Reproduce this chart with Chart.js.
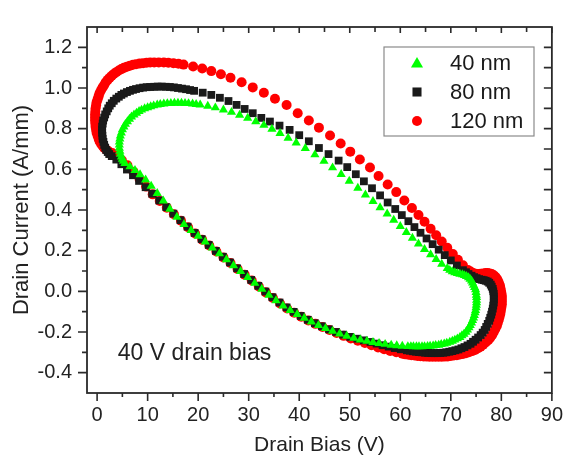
<!DOCTYPE html>
<html>
<head>
<meta charset="utf-8">
<script src="https://cdn.jsdelivr.net/npm/chart.js@4.4.0/dist/chart.umd.min.js"></script>
<style>
  body { margin: 0; background: #fff; }
  #wrap { width: 573px; height: 458px; }
</style>
</head>
<body>
<div id="wrap"><canvas id="loadLine" width="573" height="458"></canvas></div>
<script>
// load lines, loop order: left arc -> top -> right knee -> bottom -> back up the diagonal
let x40 = [5.5, 5.2, 5.0, 4.8, 4.6, 4.5, 4.4, 4.4, 4.4, 4.5, 4.6, 4.8, 5.0, 5.3, 5.6, 6.0, 6.4, 6.8, 7.3, 7.8,
    8.3, 8.8, 9.4, 10.0, 10.6, 11.2, 11.9, 12.5, 13.2, 13.9, 14.6, 15.3, 16.0, 16.7, 17.4, 18.1, 18.9, 19.6, 20.4,
    21.9, 23.4, 25.0, 26.6, 28.2, 29.8, 31.4, 33.0, 34.6, 36.2, 37.8, 39.4, 41.2, 43.1, 44.9, 46.6, 48.3, 49.9, 51.6, 53.1,
    54.6, 56.0, 57.4, 58.7, 60.0, 61.2, 62.4, 63.6, 64.8, 66.0, 67.1, 68.2,
    69.3, 69.8, 70.3, 70.8, 71.3, 71.8, 72.3, 72.7, 73.1, 73.5, 73.8, 74.1, 74.3, 74.5, 74.7, 74.9, 75.0, 75.05, 75.1, 75.1,
    75.1, 75.05, 75.0, 74.9, 74.8, 74.65, 74.5, 74.3, 74.1, 73.85, 73.6, 73.3, 73.0, 72.6, 72.2, 71.8, 71.3, 70.8, 70.3, 69.8,
    69.2, 68.7, 68.1, 67.6, 67.0, 66.5, 65.9, 65.4, 64.8, 64.3, 63.7, 63.2, 62.6, 62.1, 61.5, 60.4,
    59.3, 58.2, 57.0, 55.8, 54.6, 53.4, 52.1, 50.8, 49.4, 48.0, 46.6, 45.2, 43.8, 42.4, 41.0, 39.6, 38.2, 36.8, 35.4, 34.0,
    32.6, 31.2, 29.8, 28.4, 27.0, 25.6, 24.2, 22.8, 21.4, 20.0, 18.6, 17.2, 15.8, 14.4, 13.1, 11.9, 10.7, 9.6, 8.5, 7.5, 6.5];
let y40 = [0.63, 0.64, 0.65, 0.662, 0.675, 0.69, 0.705, 0.72, 0.735, 0.75, 0.765, 0.78, 0.795, 0.809, 0.822, 0.835, 0.847, 0.858, 0.868, 0.877,
    0.885, 0.892, 0.899, 0.904, 0.909, 0.913, 0.917, 0.92, 0.922, 0.924, 0.925, 0.926, 0.926, 0.926, 0.925, 0.924, 0.922, 0.92, 0.917,
    0.911, 0.903, 0.893, 0.881, 0.867, 0.852, 0.835, 0.817, 0.798, 0.777, 0.754, 0.73, 0.703, 0.672, 0.64, 0.608, 0.575, 0.542, 0.508, 0.475,
    0.443, 0.412, 0.381, 0.35, 0.32, 0.29, 0.262, 0.234, 0.207, 0.181, 0.157, 0.134,
    0.113, 0.104, 0.097, 0.092, 0.088, 0.085, 0.082, 0.078, 0.074, 0.068, 0.06, 0.052, 0.042, 0.031, 0.02, 0.008, -0.005, -0.018, -0.03, -0.043,
    -0.055, -0.068, -0.08, -0.093, -0.105, -0.118, -0.13, -0.143, -0.155, -0.167, -0.178, -0.19, -0.2, -0.21, -0.218, -0.226, -0.233, -0.239, -0.245, -0.25,
    -0.254, -0.258, -0.261, -0.264, -0.266, -0.268, -0.269, -0.27, -0.271, -0.272, -0.272, -0.272, -0.272, -0.271, -0.271, -0.269,
    -0.267, -0.264, -0.26, -0.256, -0.251, -0.245, -0.238, -0.23, -0.22, -0.209, -0.196, -0.182, -0.167, -0.15, -0.132, -0.113, -0.093, -0.071, -0.045, -0.018,
    0.011, 0.04, 0.069, 0.098, 0.127, 0.156, 0.185, 0.214, 0.243, 0.272, 0.3, 0.33, 0.365, 0.405, 0.445, 0.482, 0.518, 0.548, 0.574, 0.595, 0.613];

let x80 = [2.4, 2.1, 1.8, 1.6, 1.4, 1.25, 1.1, 1.05, 1.0, 1.0, 1.0, 1.1, 1.2, 1.4, 1.6, 1.9, 2.2, 2.5, 2.9, 3.3,
    3.8, 4.3, 4.8, 5.3, 5.9, 6.5, 7.1, 7.7, 8.4, 9.1, 9.8, 10.5, 11.3, 12.0, 12.8, 13.6, 14.4, 15.2, 16.0, 16.8,
    17.6, 18.4, 19.2,
    20.9, 22.6, 24.3, 26.0, 27.6, 29.2, 30.8, 32.5, 34.2, 36.1, 38.1, 40.0, 41.9, 43.9, 45.8, 47.8, 49.5, 51.2, 52.8, 54.4,
    56.0, 57.5, 59.0, 60.3, 61.6, 62.8, 64.0, 65.2, 66.4, 67.6, 68.8, 70.0, 71.2,
    72.4, 73.0, 73.5, 74.1, 74.6, 75.1, 75.6, 76.1, 76.5, 76.9, 77.3, 77.6, 77.9, 78.1, 78.3, 78.4, 78.5, 78.5, 78.5, 78.5,
    78.4, 78.3, 78.15, 78.0, 77.8, 77.6, 77.3, 77.0, 76.7, 76.3, 75.9, 75.4, 74.9, 74.4, 73.9, 73.3, 72.7, 72.1, 71.5, 70.9,
    70.3, 69.7, 69.1, 68.5, 67.9, 67.3, 66.7, 66.1, 65.5, 64.9, 64.3, 63.7, 63.1, 62.5, 61.9, 61.3, 60.1,
    58.9, 57.7, 56.5, 55.3, 54.1, 52.8, 51.5, 50.1, 48.7, 47.3, 45.9, 44.5, 43.1, 41.7, 40.3, 38.9, 37.5, 36.1, 34.7, 33.3,
    31.9, 30.5, 29.1, 27.7, 26.3, 24.9, 23.5, 22.1, 20.7, 19.3, 17.9, 16.5, 15.1, 13.7, 12.3, 10.9, 9.6, 8.3, 7.1, 5.9,
    4.8, 3.8, 2.9];
let y80 = [0.675, 0.685, 0.695, 0.707, 0.72, 0.735, 0.75, 0.765, 0.78, 0.795, 0.81, 0.825, 0.84, 0.855, 0.87, 0.885, 0.90, 0.913, 0.925, 0.937,
    0.948, 0.957, 0.966, 0.973, 0.98, 0.986, 0.991, 0.995, 0.999, 1.002, 1.004, 1.005, 1.006, 1.007, 1.007, 1.006, 1.005, 1.003, 1.0, 0.997,
    0.994, 0.99, 0.986,
    0.977, 0.966, 0.952, 0.936, 0.917, 0.897, 0.876, 0.853, 0.835, 0.815, 0.794, 0.768, 0.738, 0.705, 0.675, 0.643, 0.611, 0.576, 0.541, 0.507,
    0.472, 0.437, 0.405, 0.375, 0.345, 0.316, 0.288, 0.26, 0.232, 0.205, 0.178, 0.152, 0.127,
    0.104, 0.094, 0.085, 0.077, 0.07, 0.065, 0.06, 0.057, 0.055, 0.052, 0.048, 0.042, 0.033, 0.023, 0.012, 0.0, -0.012, -0.026, -0.04, -0.055,
    -0.07, -0.085, -0.1, -0.115, -0.13, -0.145, -0.16, -0.175, -0.19, -0.203, -0.215, -0.227, -0.238, -0.248, -0.258, -0.266, -0.274, -0.28, -0.286, -0.29,
    -0.294, -0.297, -0.3, -0.302, -0.303, -0.304, -0.304, -0.304, -0.303, -0.302, -0.3, -0.299, -0.297, -0.295, -0.292, -0.29, -0.285,
    -0.279, -0.272, -0.265, -0.257, -0.249, -0.241, -0.233, -0.224, -0.213, -0.2, -0.187, -0.172, -0.157, -0.14, -0.121, -0.101, -0.079, -0.055, -0.029, -0.001,
    0.027, 0.056, 0.085, 0.113, 0.142, 0.17, 0.199, 0.228, 0.257, 0.287, 0.318, 0.35, 0.382, 0.414, 0.447, 0.48, 0.512, 0.543, 0.571, 0.599,
    0.625, 0.648, 0.665];

let x120 = [2.2, 1.8, 1.4, 1.1, 0.8, 0.5, 0.3, 0.1, -0.1, -0.2, -0.3, -0.35, -0.4, -0.4, -0.4, -0.35, -0.3, -0.2, -0.1, 0.1,
    0.3, 0.5, 0.8, 1.1, 1.4, 1.7, 2.1, 2.5, 2.9, 3.3, 3.8, 4.3, 4.8, 5.3, 5.9, 6.5, 7.1, 7.7, 8.4, 9.1, 9.8, 10.5,
    11.3, 12.2, 13.2, 14.1, 15.1, 16.1, 17.1, 19.0, 20.8, 22.6, 24.5, 26.4, 28.6, 30.8, 33.0, 35.2, 37.5, 39.7, 41.9, 43.9,
    46.1, 48.2, 50.1, 52.0, 54.0, 55.7, 57.5, 59.2, 60.8, 62.3, 63.6, 64.8, 66.0, 67.1, 68.2, 69.3, 70.4, 71.4, 72.4,
    73.4, 73.9, 74.4, 74.9, 75.4, 75.9, 76.4, 76.9, 77.3, 77.7, 78.1, 78.5, 78.8, 79.1, 79.3, 79.5, 79.7, 79.8, 79.9, 80.0,
    80.1, 80.1, 80.1, 80.1, 80.0, 79.9, 79.8, 79.65, 79.5, 79.3, 79.1, 78.8, 78.5, 78.2, 77.8, 77.4, 76.9, 76.4, 75.9, 75.4,
    74.8, 74.2, 73.6, 73.0, 72.4, 71.8, 71.2, 70.6, 70.0, 69.4, 68.8, 68.2, 67.6, 67.0, 66.4, 65.8, 65.2, 64.6, 64.0, 63.4,
    62.8, 62.2, 61.6, 61.0, 60.4,
    59.2, 58.0, 56.8, 55.6, 54.3, 53.0, 51.6, 50.2, 48.8, 47.4, 46.0, 44.6, 43.2, 41.8, 40.4, 39.0, 37.6, 36.2, 34.8, 33.4,
    32.0, 30.6, 29.2, 27.8, 26.4, 25.0, 23.6, 22.2, 20.8, 19.4, 18.0, 16.6, 15.2, 13.8, 12.4, 11.0, 9.7, 8.4, 7.2, 6.0,
    4.9, 3.9, 3.0];
let y120 = [0.69, 0.697, 0.705, 0.715, 0.725, 0.737, 0.75, 0.765, 0.78, 0.795, 0.81, 0.825, 0.84, 0.855, 0.87, 0.885, 0.90, 0.915, 0.93, 0.945,
    0.96, 0.975, 0.99, 1.003, 1.015, 1.028, 1.04, 1.05, 1.06, 1.069, 1.078, 1.086, 1.093, 1.099, 1.105, 1.11, 1.114, 1.117, 1.12, 1.122, 1.124, 1.125,
    1.125, 1.126, 1.125, 1.124, 1.122, 1.119, 1.115, 1.106, 1.096, 1.083, 1.068, 1.05, 1.028, 1.003, 0.977, 0.947, 0.916, 0.876, 0.84, 0.805,
    0.766, 0.727, 0.687, 0.648, 0.609, 0.567, 0.525, 0.488, 0.447, 0.41, 0.375, 0.342, 0.308, 0.276, 0.245, 0.214, 0.184, 0.155, 0.128,
    0.105, 0.097, 0.09, 0.087, 0.085, 0.086, 0.088, 0.09, 0.09, 0.088, 0.085, 0.079, 0.072, 0.063, 0.053, 0.042, 0.03, 0.018, 0.005, -0.008,
    -0.022, -0.036, -0.05, -0.065, -0.08, -0.095, -0.11, -0.125, -0.14, -0.155, -0.17, -0.185, -0.2, -0.214, -0.228, -0.24, -0.252, -0.262, -0.272, -0.28,
    -0.288, -0.294, -0.3, -0.304, -0.308, -0.311, -0.314, -0.316, -0.318, -0.32, -0.321, -0.322, -0.322, -0.322, -0.322, -0.322, -0.321, -0.32, -0.319, -0.318,
    -0.316, -0.314, -0.312, -0.31, -0.307,
    -0.3, -0.293, -0.285, -0.276, -0.265, -0.254, -0.243, -0.232, -0.219, -0.205, -0.19, -0.175, -0.16, -0.143, -0.125, -0.105, -0.084, -0.06, -0.033, -0.005,
    0.024, 0.053, 0.082, 0.11, 0.139, 0.167, 0.196, 0.225, 0.254, 0.284, 0.315, 0.347, 0.379, 0.411, 0.444, 0.477, 0.515, 0.552, 0.588, 0.62,
    0.645, 0.665, 0.68];

let seriesNames = ['40 nm', '80 nm', '120 nm'];
let seriesColors = ['#00ff00', '#1a1a1a', '#ff0000'];
let seriesStyles = ['triangle', 'rect', 'circle'];
let xTicks = [0, 10, 20, 30, 40, 50, 60, 70, 80, 90];
let yTicks = [-0.4, -0.2, 0.0, 0.2, 0.4, 0.6, 0.8, 1.0, 1.2];
let note = '40 V drain bias';

Chart.defaults.font.family = "'Liberation Sans', Arial, sans-serif";
Chart.defaults.color = '#222';

function toPoints(xs, ys) {
    return xs.map((x, i) => ({ x: x, y: ys[i] }));
}

function markerPath(ctx, style, x, y, r) {
    ctx.beginPath();
    if (style === 'triangle') {
        ctx.moveTo(x, y - r);
        ctx.lineTo(x + r * 0.866, y + r * 0.5);
        ctx.lineTo(x - r * 0.866, y + r * 0.5);
        ctx.closePath();
    } else if (style === 'rect') {
        ctx.rect(x - r * 0.707, y - r * 0.707, r * 1.414, r * 1.414);
    } else {
        ctx.arc(x, y, r, 0, Math.PI * 2);
    }
}

// frame with ticks on all 4 sides, the note and the boxed legend
const framePlugin = {
    id: 'framePlugin',
    afterDraw(chart) {
        let ctx = chart.ctx;
        let a = chart.chartArea;
        let xs = chart.scales.x;
        let ys = chart.scales.y;
        ctx.save();
        ctx.strokeStyle = '#2a2a2a';
        ctx.lineWidth = 1.8;
        ctx.strokeRect(a.left, a.top, a.right - a.left, a.bottom - a.top);

        ctx.lineWidth = 1.6;
        ctx.beginPath();
        for (let v = 0; v <= 90; v += 5) {
            let px = xs.getPixelForValue(v);
            let major = v % 10 === 0;
            ctx.moveTo(px, a.bottom);
            ctx.lineTo(px, a.bottom + (major ? 8 : 4));
            ctx.moveTo(px, a.top);
            ctx.lineTo(px, a.top + (major ? 6 : 5));
        }
        for (let k = -4; k <= 12; k++) {
            let py = ys.getPixelForValue(k / 10);
            let major = k % 2 === 0;
            ctx.moveTo(a.left, py);
            ctx.lineTo(a.left - (major ? 9 : 5), py);
            ctx.moveTo(a.right, py);
            ctx.lineTo(a.right - 8, py);
        }
        ctx.stroke();

        // note
        ctx.fillStyle = '#222';
        ctx.font = "23px 'Liberation Sans', Arial, sans-serif";
        ctx.textBaseline = 'middle';
        ctx.textAlign = 'left';
        ctx.fillText(note, xs.getPixelForValue(4.1), ys.getPixelForValue(-0.305));

        // legend box
        let bx = 384, by = 47, bw = 150, bh = 89;
        ctx.fillStyle = '#fff';
        ctx.fillRect(bx, by, bw, bh);
        ctx.strokeStyle = '#8a8a8a';
        ctx.lineWidth = 1.2;
        ctx.strokeRect(bx, by, bw, bh);
        let sizes = [7, 6.4, 5];
        let offs = [1, 0, 0];
        seriesNames.forEach((name, i) => {
            let rowY = 63 + i * 29;
            ctx.fillStyle = seriesColors[i];
            markerPath(ctx, seriesStyles[i], 417, rowY + offs[i], sizes[i]);
            ctx.fill();
            ctx.fillStyle = '#1a1a1a';
            ctx.font = "22px 'Liberation Sans', Arial, sans-serif";
            ctx.fillText(name, 450, rowY + 1);
        });
        ctx.restore();
    }
};

let ctx = document.getElementById('loadLine').getContext('2d');
new Chart(ctx, {
    type: 'scatter',
    data: {
        datasets: [{
            label: seriesNames[0],
            data: toPoints(x40, y40),
            pointStyle: 'triangle',
            pointRadius: 5.3,
            pointBackgroundColor: seriesColors[0],
            pointBorderWidth: 0,
            showLine: false
        }, {
            label: seriesNames[1],
            data: toPoints(x80, y80),
            pointStyle: 'rect',
            pointRadius: 5.5,
            pointBackgroundColor: seriesColors[1],
            pointBorderWidth: 0,
            showLine: false
        }, {
            label: seriesNames[2],
            data: toPoints(x120, y120),
            pointStyle: 'circle',
            pointRadius: 5,
            pointBackgroundColor: seriesColors[2],
            pointBorderWidth: 0,
            showLine: false
        }]
    },
    options: {
        responsive: false,
        animation: false,
        devicePixelRatio: 1,
        events: [],
        layout: { padding: { top: 13, right: 12, left: 0, bottom: 0 } },
        plugins: {
            legend: { display: false },
            tooltip: { enabled: false }
        },
        scales: {
            x: {
                type: 'linear',
                min: -2,
                max: 90,
                afterBuildTicks: s => { s.ticks = xTicks.map(v => ({ value: v })); },
                afterFit: s => { s.height = 65; },
                grid: { display: false, drawTicks: false },
                border: { display: false },
                ticks: { font: { size: 20 }, color: '#222', padding: 10, maxRotation: 0, autoSkip: false },
                title: { display: true, text: 'Drain Bias (V)', font: { size: 21 }, color: '#222', padding: { top: 0, bottom: 0 } }
            },
            y: {
                type: 'linear',
                min: -0.5,
                max: 1.3,
                afterBuildTicks: s => { s.ticks = yTicks.map(v => ({ value: v })); },
                afterFit: s => { s.width = 87; },
                grid: { display: false, drawTicks: false },
                border: { display: false },
                ticks: { font: { size: 20 }, color: '#222', padding: 15, autoSkip: false, callback: v => v.toFixed(1) },
                title: { display: true, text: 'Drain Current (A/mm)', font: { size: 22 }, color: '#222', padding: { top: 9, bottom: 0 } }
            }
        }
    },
    plugins: [framePlugin]
});
</script>
</body>
</html>
